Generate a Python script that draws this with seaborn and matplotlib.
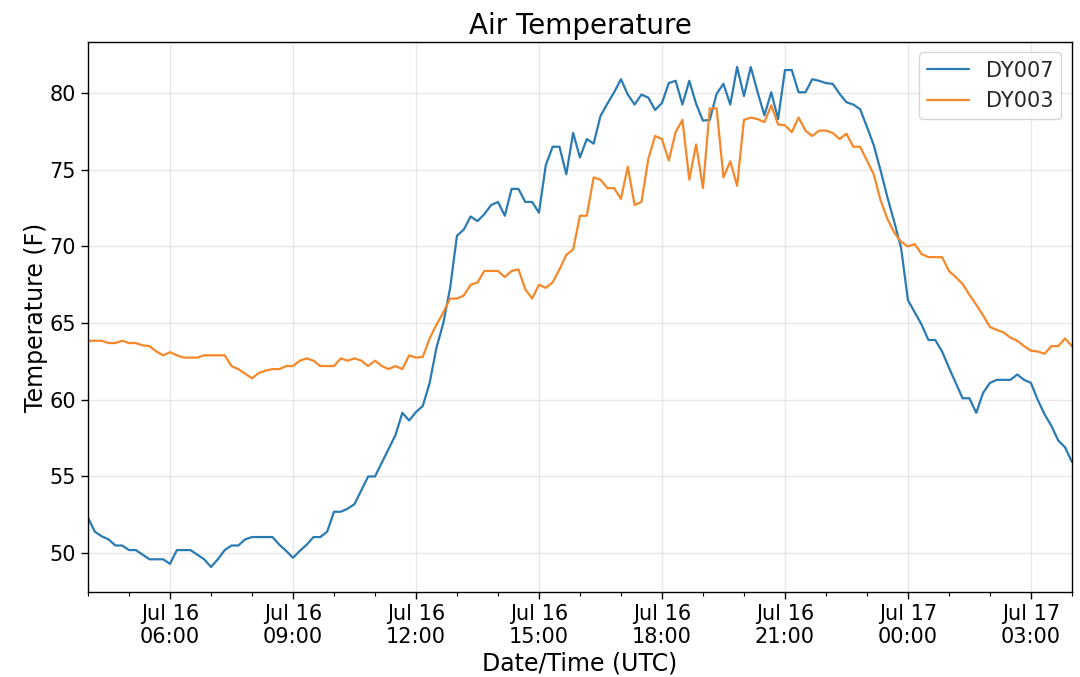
"""
Air temperature at two stations, 10-minute readings, Jul 16 04:00 - Jul 17 04:00 UTC
"""

import pandas as pd
import numpy as np
import matplotlib
matplotlib.use('Agg')
import matplotlib.pyplot as plt
import matplotlib.dates as mdates
import seaborn as sns

# 10-minute readings starting at 04:00 UTC
start_time = '2019-07-16 04:00'
n_points = 145

dy007_temp = [
    52.3, 51.4, 51.1, 50.9, 50.5, 50.5, 50.2, 50.2, 49.9, 49.6,
    49.6, 49.6, 49.3, 50.2, 50.2, 50.2, 49.9, 49.6, 49.1, 49.6,
    50.2, 50.5, 50.5, 50.9, 51.05, 51.05, 51.05, 51.05, 50.55, 50.15,
    49.7, 50.15, 50.55, 51.05, 51.05, 51.4, 52.7, 52.7, 52.9, 53.2,
    54.1, 55.0, 55.0, 55.9, 56.8, 57.7, 59.15, 58.65, 59.2, 59.6,
    61.1, 63.4, 65.0, 67.3, 70.7, 71.1, 71.95, 71.65, 72.1, 72.7,
    72.9, 72.0, 73.75, 73.75, 72.9, 72.9, 72.2, 75.3, 76.5, 76.5,
    74.7, 77.4, 75.8, 77.0, 76.7, 78.5, 79.3, 80.05, 80.9, 79.9,
    79.25, 79.9, 79.7, 78.9, 79.35, 80.65, 80.8, 79.25, 80.8, 79.3,
    78.2, 78.25, 79.95, 80.6, 79.25, 81.7, 79.8, 81.7, 80.05, 78.55,
    80.05, 78.3, 81.5, 81.5, 80.05, 80.05, 80.9, 80.8, 80.65, 80.6,
    79.95, 79.4, 79.25, 78.95, 77.8, 76.6, 74.95, 73.2, 71.6, 69.9,
    66.5, 65.7, 64.9, 63.9, 63.9, 63.15, 62.1, 61.1, 60.1, 60.1,
    59.15, 60.45, 61.1, 61.3, 61.3, 61.3, 61.65, 61.3, 61.1, 60.0,
    59.05, 58.3, 57.35, 56.9, 55.95,
]

dy003_temp = [
    63.85, 63.85, 63.85, 63.7, 63.7, 63.85, 63.7, 63.7, 63.55, 63.5,
    63.15, 62.9, 63.1, 62.9, 62.75, 62.75, 62.75, 62.9, 62.9, 62.9,
    62.9, 62.2, 62.0, 61.7, 61.4, 61.75, 61.9, 62.0, 62.0, 62.2,
    62.2, 62.55, 62.7, 62.55, 62.2, 62.2, 62.2, 62.7, 62.55, 62.7,
    62.55, 62.2, 62.55, 62.2, 62.0, 62.2, 62.0, 62.9, 62.75, 62.8,
    64.0, 64.9, 65.7, 66.6, 66.6, 66.8, 67.5, 67.65, 68.4, 68.4,
    68.4, 68.0, 68.4, 68.5, 67.2, 66.6, 67.5, 67.3, 67.65, 68.5,
    69.45, 69.8, 72.0, 72.0, 74.5, 74.35, 73.8, 73.8, 73.1, 75.2,
    72.7, 72.9, 75.7, 77.2, 77.0, 75.6, 77.45, 78.25, 74.35, 76.65,
    73.8, 79.0, 79.0, 74.5, 75.55, 73.95, 78.25, 78.4, 78.3, 78.1,
    79.2, 77.95, 77.9, 77.45, 78.4, 77.55, 77.2, 77.55, 77.55, 77.4,
    77.0, 77.35, 76.5, 76.5, 75.6, 74.7, 73.0, 71.8, 70.9, 70.3,
    70.0, 70.15, 69.5, 69.3, 69.3, 69.3, 68.4, 68.0, 67.55, 66.85,
    66.2, 65.5, 64.75, 64.55, 64.4, 64.05, 63.85, 63.5, 63.2, 63.15,
    63.0, 63.5, 63.5, 64.0, 63.5,
]

station_names = ['DY007', 'DY003']
station_colors = ['#2a7ab3', '#f5882a']


def build_frame():
    """Put both stations into one long table"""
    times = pd.date_range(start_time, periods=n_points, freq='10min')
    frames = []
    for name, values in zip(station_names, [dy007_temp, dy003_temp]):
        frames.append(pd.DataFrame({'datetime': times, 'temp': values, 'station': name}))
    return pd.concat(frames, ignore_index=True)


def plot_air_temperature(df):
    sns.set_theme(style='ticks')
    plt.rcParams['font.family'] = ['DejaVu Sans']

    fig = plt.figure(figsize=(10.8, 6.77), dpi=100)
    ax = fig.add_axes([0.0815, 0.1256, 0.911, 0.8124])

    for name, color in zip(station_names, station_colors):
        sub = df[df['station'] == name]
        sns.lineplot(data=sub, x='datetime', y='temp', color=color,
                     linewidth=1.6, label=name, ax=ax)

    ax.set_xlim(df['datetime'].min(), df['datetime'].max())
    ax.xaxis.set_major_locator(mdates.HourLocator(byhour=range(0, 24, 3)))
    ax.xaxis.set_minor_locator(mdates.HourLocator())
    ax.xaxis.set_major_formatter(mdates.DateFormatter('%b %d\n%H:%M'))

    ax.grid(True, which='major', color='#d9d9d9', alpha=0.6, linewidth=1)
    for spine in ax.spines.values():
        spine.set_visible(True)
        spine.set_color('black')
        spine.set_linewidth(1)

    ax.tick_params(axis='both', which='major', labelsize=15, length=5,
                   width=1, color='black', labelcolor='black')
    ax.tick_params(axis='x', which='minor', length=3, width=0.8, color='black')

    ax.set_title('Air Temperature', fontsize=20, color='black')
    ax.set_xlabel('Date/Time (UTC)', fontsize=17, color='black', labelpad=3)
    ax.set_ylabel('Temperature (F)', fontsize=17, color='black', labelpad=1)

    ax.legend(loc='upper right', fontsize=15, frameon=True)

    fig.savefig('out.png', dpi=100)
    plt.close(fig)


if __name__ == '__main__':
    data = build_frame()
    plot_air_temperature(data)
